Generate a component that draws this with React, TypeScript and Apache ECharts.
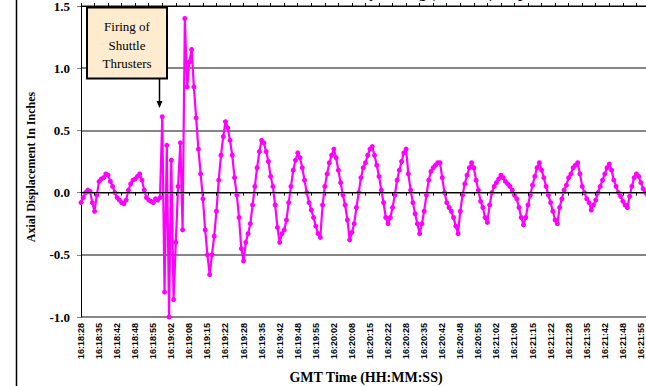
import React, { useEffect, useRef } from 'react';
import * as echarts from 'echarts';

const tickLabels = [
  '16:18:28', '16:18:35', '16:18:42', '16:18:48', '16:18:55', '16:19:02', '16:19:08', '16:19:15',
  '16:19:22', '16:19:28', '16:19:35', '16:19:42', '16:19:48', '16:19:55', '16:20:02', '16:20:08',
  '16:20:15', '16:20:22', '16:20:28', '16:20:35', '16:20:42', '16:20:48', '16:20:55', '16:21:02',
  '16:21:08', '16:21:15', '16:21:22', '16:21:28', '16:21:35', '16:21:42', '16:21:48', '16:21:55',
];

// one sample every 1/8 of a label interval (~0.83 s)
const displacement = [
  -0.08, -0.04, 0.0, 0.02, 0.01, -0.08, -0.15, -0.02, 0.09, 0.11,
  0.12, 0.15, 0.14, 0.09, 0.05, 0.0, -0.04, -0.06, -0.08, -0.09,
  -0.06, 0.02, 0.07, 0.1, 0.11, 0.13, 0.15, 0.1, 0.02, -0.04,
  -0.06, -0.07, -0.08, -0.05, -0.06, -0.04, 0.61, -0.8, 0.38, -1.0,
  0.26, -0.86, -0.4, 0.05, 0.4, -0.3, 1.4, 0.85, 1.05, 1.15,
  0.85, 0.6, 0.35, 0.15, -0.05, -0.3, -0.5, -0.66, -0.5, -0.35,
  -0.15, 0.1, 0.3, 0.45, 0.57, 0.52, 0.42, 0.3, 0.12, -0.02,
  -0.2, -0.45, -0.55, -0.4, -0.33, -0.25, -0.1, 0.05, 0.2, 0.33,
  0.42, 0.4, 0.33, 0.25, 0.13, 0.05, -0.1, -0.28, -0.4, -0.33,
  -0.3, -0.22, -0.08, 0.05, 0.18, 0.26, 0.32, 0.28, 0.2, 0.1,
  0.0, -0.08, -0.14, -0.2, -0.27, -0.33, -0.36, -0.1, 0.05, 0.15,
  0.24, 0.3, 0.35, 0.28, 0.18, 0.08, -0.02, -0.1, -0.22, -0.38,
  -0.32, -0.25, -0.12, 0.0, 0.12, 0.2, 0.24, 0.3, 0.35, 0.37,
  0.3, 0.22, 0.13, 0.02, -0.08, -0.2, -0.25, -0.2, -0.12, -0.02,
  0.1, 0.18, 0.25, 0.32, 0.35, 0.15, 0.02, -0.08, -0.17, -0.25,
  -0.33, -0.25, -0.15, -0.02, 0.1, 0.17, 0.2, 0.22, 0.24, 0.24,
  0.12, 0.0, -0.08, -0.12, -0.15, -0.2, -0.27, -0.33, -0.15, -0.02,
  0.07, 0.14, 0.2, 0.24, 0.2, 0.1, 0.02, -0.07, -0.12, -0.2,
  -0.24, -0.1, 0.0, 0.05, 0.08, 0.11, 0.14, 0.12, 0.09, 0.07,
  0.05, 0.02, -0.02, -0.05, -0.12, -0.2, -0.26, -0.2, -0.1, -0.02,
  0.06, 0.13, 0.2, 0.24, 0.18, 0.12, 0.05, -0.02, -0.08, -0.15,
  -0.22, -0.25, -0.12, -0.05, 0.02, 0.06, 0.12, 0.15, 0.2, 0.22,
  0.24, 0.15, 0.05, 0.0, -0.05, -0.08, -0.14, -0.1, -0.06, 0.0,
  0.05, 0.1, 0.15, 0.2, 0.23, 0.18, 0.1, 0.05, 0.0, -0.03,
  -0.07, -0.1, -0.12, -0.03, 0.05, 0.12, 0.15, 0.13, 0.08, 0.03,
  0.0, -0.02,
];

const yTicks = { min: -1, max: 1.5, interval: 0.5 };
const SAMPLES_PER_LABEL = 8;
const SAMPLES_PER_TICK = 6;
const N_CATS = 256;

export default function App() {
  const ref = useRef<HTMLDivElement>(null);

  useEffect(() => {
    if (!ref.current) return;
    const chart = echarts.init(ref.current, null, { renderer: 'svg' });
    const categories = Array.from({ length: N_CATS }, (_, i) => String(i));
    const serif = 'Liberation Serif';
    const sans = 'Liberation Sans';

    const zeroAxis = (position: string) => ({
      type: 'category',
      data: categories,
      boundaryGap: false,
      position,
      z: 3,
      axisLine: { show: true, onZero: true, lineStyle: { color: '#000', width: 1 } },
      axisTick: { show: true, interval: SAMPLES_PER_TICK - 1, length: 3, lineStyle: { color: '#000', width: 1 } },
      axisLabel: { show: false },
      splitLine: { show: false },
    });

    chart.setOption({
      animation: false,
      grid: { left: 81, top: 6, width: 575.7, height: 311, containLabel: false, outerBoundsMode: 'none' },
      xAxis: [
        {
          type: 'category',
          data: categories,
          boundaryGap: false,
          position: 'bottom',
          axisLine: { show: false, onZero: false },
          axisTick: { show: false },
          splitLine: { show: false },
          axisLabel: {
            interval: SAMPLES_PER_LABEL - 1,
            rotate: 90,
            margin: 6,
            fontFamily: sans,
            fontWeight: 'bold',
            fontSize: 9,
            color: '#000',
            formatter: (_v: string, idx: number) => tickLabels[idx / SAMPLES_PER_LABEL] ?? '',
          },
        },
        zeroAxis('bottom'),
        zeroAxis('top'),
      ],
      yAxis: {
        type: 'value',
        min: yTicks.min,
        max: yTicks.max,
        interval: yTicks.interval,
        axisLine: { show: true, onZero: false, lineStyle: { color: '#000', width: 1 } },
        axisTick: { show: true, length: 4, lineStyle: { color: '#808080', width: 1 } },
        axisLabel: {
          margin: 11,
          fontFamily: serif,
          fontWeight: 'bold',
          fontSize: 13,
          color: '#000',
          formatter: (v: number) => v.toFixed(1),
        },
        splitLine: { lineStyle: { color: '#868686', width: 2 } },
      },
      series: [
        {
          type: 'line',
          data: displacement,
          xAxisIndex: 0,
          yAxisIndex: 0,
          symbol: 'circle',
          symbolSize: 5,
          showAllSymbol: true,
          lineStyle: { color: '#FF00FF', width: 2.2 },
          itemStyle: { color: '#FF00FF' },
          z: 2,
        },
      ],
      graphic: [
        { type: 'line', shape: { x1: 16.5, y1: 0, x2: 16.5, y2: 386 }, style: { stroke: '#000', lineWidth: 1.5 } },
        {
          type: 'text', x: 240, y: -7.5,
          style: {
            text: 'Axial Motion History During (STS-100) Step', font: `bold 15px "${serif}"`, fill: '#000',
            textAlign: 'left', textVerticalAlign: 'middle',
          },
        },
        {
          type: 'text', x: 31, y: 167, rotation: Math.PI / 2,
          style: {
            text: 'Axial Displacement In Inches', font: `bold 12px "${serif}"`, fill: '#000',
            textAlign: 'center', textVerticalAlign: 'middle',
          },
        },
        {
          type: 'text', x: 366, y: 377,
          style: {
            text: 'GMT Time (HH:MM:SS)', font: `bold 14px "${serif}"`, fill: '#000',
            textAlign: 'center', textVerticalAlign: 'middle',
          },
        },
        {
          type: 'rect', z: 100, shape: { x: 87, y: 7.5, width: 80, height: 71 },
          style: { fill: '#FFEBCD', stroke: '#000', lineWidth: 2 },
        },
        {
          type: 'text', z: 101, x: 127, y: 26,
          style: { text: 'Firing of', font: `13px "${serif}"`, fill: '#000', textAlign: 'center', textVerticalAlign: 'middle' },
        },
        {
          type: 'text', z: 101, x: 127, y: 45,
          style: { text: 'Shuttle', font: `13px "${serif}"`, fill: '#000', textAlign: 'center', textVerticalAlign: 'middle' },
        },
        {
          type: 'text', z: 101, x: 127, y: 63,
          style: { text: 'Thrusters', font: `13px "${serif}"`, fill: '#000', textAlign: 'center', textVerticalAlign: 'middle' },
        },
        { type: 'line', z: 100, shape: { x1: 159.5, y1: 79, x2: 159.5, y2: 102 }, style: { stroke: '#000', lineWidth: 1.5 } },
        { type: 'polygon', z: 100, shape: { points: [[156.5, 101], [162.5, 101], [159.5, 108]] }, style: { fill: '#000' } },
      ],
    });

    return () => chart.dispose();
  }, []);

  return <div ref={ref} style={{ position: 'absolute', left: 0, top: 0, width: 646, height: 386 }} />;
}
